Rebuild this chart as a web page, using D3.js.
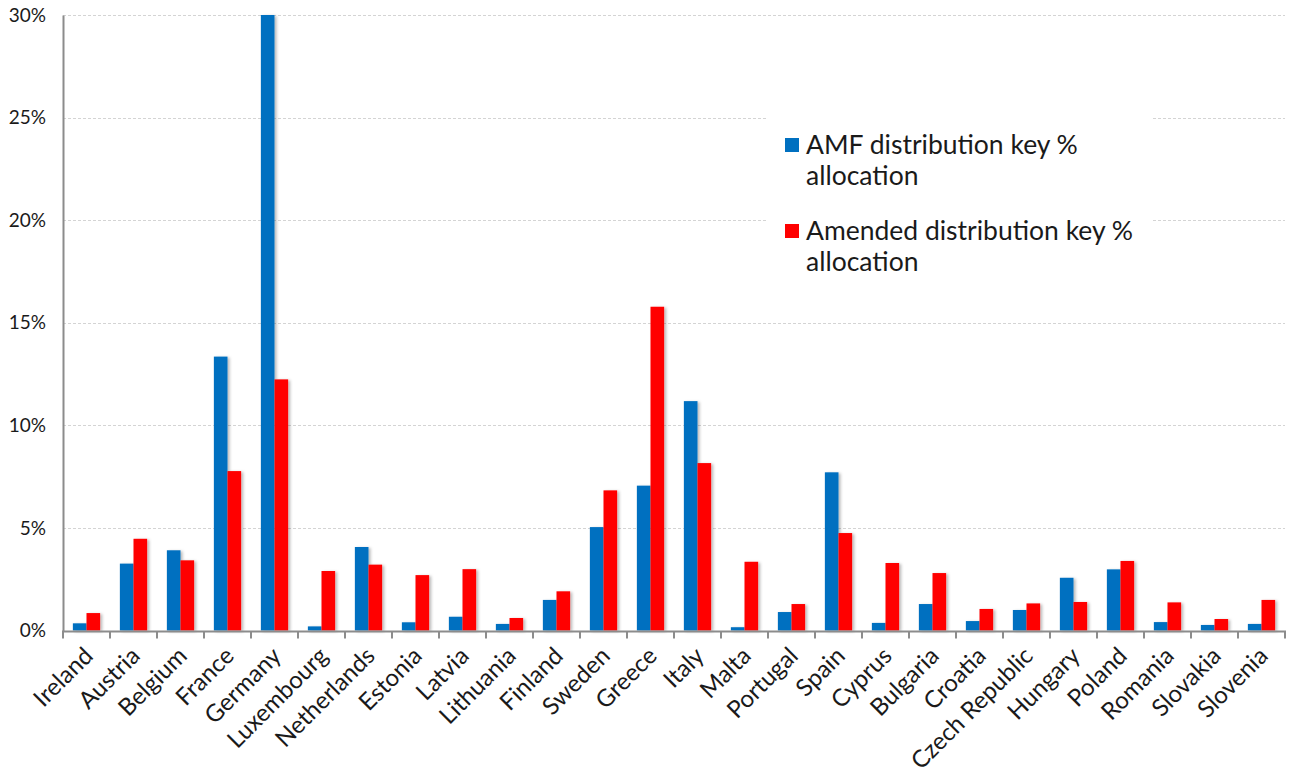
<!DOCTYPE html>
<html>
<head>
<meta charset="utf-8">
<script src="https://cdn.jsdelivr.net/npm/d3@7"></script>
<style>
  html, body { margin: 0; padding: 0; background: #fff; }
  svg { display: block; font-family: Lato, "Open Sans", sans-serif; }
</style>
</head>
<body>
<svg id="chart" width="1289" height="774"></svg>
<script>
// Member states along the x axis
const countries = ["Ireland", "Austria", "Belgium", "France", "Germany", "Luxembourg",
  "Netherlands", "Estonia", "Latvia", "Lithuania", "Finland", "Sweden", "Greece",
  "Italy", "Malta", "Portugal", "Spain", "Cyprus", "Bulgaria", "Croatia",
  "Czech Republic", "Hungary", "Poland", "Romania", "Slovakia", "Slovenia"];

// Share of the allocation (%) under each key
const amfKey = [0.35, 3.26, 3.91, 13.35, 30.0, 0.2, 4.07, 0.4, 0.67, 0.32, 1.49, 5.04, 7.06,
  11.18, 0.16, 0.9, 7.71, 0.37, 1.29, 0.46, 1.0, 2.57, 2.98, 0.41, 0.27, 0.32];
const amendedKey = [0.85, 4.47, 3.42, 7.77, 12.24, 2.9, 3.21, 2.7, 2.99, 0.61, 1.91, 6.83, 15.78,
  8.16, 3.35, 1.29, 4.75, 3.29, 2.8, 1.05, 1.32, 1.39, 3.39, 1.37, 0.56, 1.49];

const seriesColors = ["#0070c0", "#ff0000"];
const yTicks = [0, 5, 10, 15, 20, 25, 30];

const svg = d3.select("#chart");
const plotLeft = 63, plotRight = 1285, plotTop = 15, plotBottom = 630.5;

const x = d3.scaleBand().domain(countries).range([plotLeft, plotRight]).padding(0);
const y = d3.scaleLinear().domain([0, 30]).range([plotBottom, plotTop]);

const defs = svg.append("defs");
const shadow = defs.append("filter").attr("id", "barShadow")
  .attr("x", "-30%").attr("y", "-5%").attr("width", "180%").attr("height", "115%");
shadow.append("feDropShadow").attr("dx", 2).attr("dy", 1).attr("stdDeviation", 1.4)
  .attr("flood-color", "#000").attr("flood-opacity", 0.28);

// Horizontal gridlines
svg.append("g").selectAll("line").data(yTicks.filter(d => d > 0)).join("line")
  .attr("x1", plotLeft).attr("x2", plotRight)
  .attr("y1", d => Math.round(y(d)) + 0.5).attr("y2", d => Math.round(y(d)) + 0.5)
  .attr("stroke", "#d4d4d4").attr("stroke-width", 1).attr("stroke-dasharray", "3,2");

// Bars: two side by side in each category
const barW = x.step() * 0.29;
const series = [amfKey, amendedKey];
const barG = svg.append("g").attr("filter", "url(#barShadow)");
series.forEach((vals, si) => {
  barG.append("g").selectAll("rect").data(countries).join("rect")
    .attr("x", (c, i) => x(c) + x.bandwidth() / 2 - barW + si * barW)
    .attr("y", (c, i) => y(vals[i]))
    .attr("width", barW)
    .attr("height", (c, i) => y(0) - y(vals[i]))
    .attr("fill", seriesColors[si]);
});

// Y axis
const yAxis = svg.append("g").attr("transform", `translate(${plotLeft},0)`)
  .call(d3.axisLeft(y).tickValues(yTicks).tickFormat(d => d + "%").tickSize(0).tickPadding(17));
yAxis.select(".domain").attr("stroke", "#8c8c8c").attr("stroke-width", 2);
yAxis.selectAll("text").attr("font-size", 19).attr("fill", "#1a1a1a")
  .attr("font-family", "Lato, sans-serif");

// X axis: line with ticks at category boundaries
const xAxisG = svg.append("g");
xAxisG.append("line").attr("x1", plotLeft - 1).attr("x2", plotRight + 1)
  .attr("y1", plotBottom + 1).attr("y2", plotBottom + 1)
  .attr("stroke", "#8c8c8c").attr("stroke-width", 2);
const boundaries = countries.map(c => x(c)).concat([plotRight]);
xAxisG.selectAll("line.tick").data(boundaries).join("line").attr("class", "tick")
  .attr("x1", d => d).attr("x2", d => d)
  .attr("y1", plotBottom + 1).attr("y2", plotBottom + 8)
  .attr("stroke", "#8c8c8c").attr("stroke-width", 2);

// Category labels, rotated 45 degrees
xAxisG.selectAll("text").data(countries).join("text")
  .attr("transform", c => `translate(${x(c) + x.bandwidth() / 2 - 4},${plotBottom + 15}) rotate(-45)`)
  .attr("text-anchor", "end")
  .attr("dy", "0.7em")
  .attr("font-size", 24)
  .attr("fill", "#1a1a1a")
  .text(c => c);

// Legend
const legend = svg.append("g");
legend.append("rect").attr("x", 767).attr("y", 97).attr("width", 386).attr("height", 195)
  .attr("fill", "#fff");
const legendLines = [["AMF distribution key %", "allocation"], ["Amended distribution key %", "allocation"]];
legendLines.forEach((lines, i) => {
  const yOff = 138 + i * 86;
  legend.append("rect").attr("x", 785).attr("y", yOff).attr("width", 14).attr("height", 14)
    .attr("fill", seriesColors[i]);
  const t = legend.append("text").attr("x", 806).attr("y", yOff + 16)
    .attr("font-size", 26.5).attr("fill", "#1a1a1a");
  lines.forEach((ln, k) => {
    t.append("tspan").attr("x", 806).attr("dy", k === 0 ? 0 : 31).text(ln);
  });
});
</script>
</body>
</html>
